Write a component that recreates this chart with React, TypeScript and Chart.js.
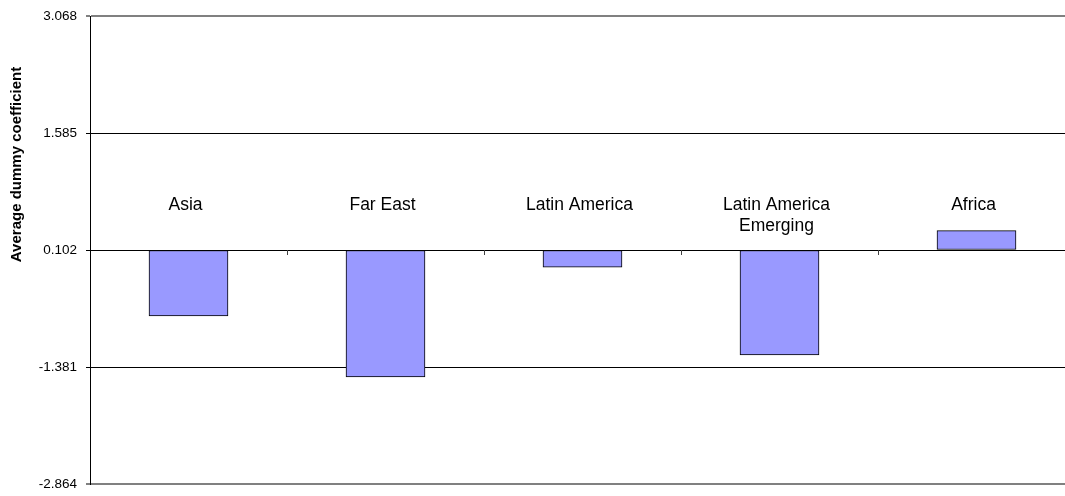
import React, { useEffect, useRef } from "react";
import { Chart, registerables } from "chart.js";

Chart.register(...registerables);

const categories: string[][] = [
  ["Asia"],
  ["Far East"],
  ["Latin America"],
  ["Latin America", "Emerging"],
  ["Africa"],
];
const coefficients: number[] = [-0.734, -1.508, -0.117, -1.229, 0.347];
const axisCross = 0.102;
const yTicks: number[] = [-2.864, -1.381, 0.102, 1.585, 3.068];
const yTitle = "Average dummy coefficient";

const FONT = "'Liberation Sans', Arial, Helvetica, sans-serif";

const overlayPlugin = {
  id: "overlay",
  afterDraw(chart: any) {
    const ctx = chart.ctx;
    const x = chart.scales.x;
    const y = chart.scales.y;
    const axisY = y.getPixelForValue(axisCross);
    ctx.save();
    // category boundary ticks on the crossing axis
    ctx.strokeStyle = "#404040";
    ctx.lineWidth = 1;
    for (let i = 0; i < categories.length - 1; i++) {
      const bx = Math.round((x.getPixelForValue(i) + x.getPixelForValue(i + 1)) / 2) + 0.5;
      ctx.beginPath();
      ctx.moveTo(bx, axisY);
      ctx.lineTo(bx, axisY + 5);
      ctx.stroke();
    }
    // category labels above the axis
    ctx.fillStyle = "#000";
    ctx.font = `17.5px ${FONT}`;
    ctx.textAlign = "center";
    ctx.textBaseline = "middle";
    categories.forEach((lines, i) => {
      const cx = x.getPixelForValue(i) - 3;
      lines.forEach((line, j) => {
        ctx.fillText(line, cx, axisY - 45 + j * 21.5);
      });
    });
    // rotated y title
    ctx.font = `bold 15px ${FONT}`;
    ctx.translate(17, 164.5);
    ctx.rotate(-Math.PI / 2);
    ctx.fillText(yTitle, 0, 0);
    ctx.restore();
  },
};

export default function App() {
  const ref = useRef<HTMLCanvasElement | null>(null);

  useEffect(() => {
    if (!ref.current) return;
    const last = yTicks.length - 1;
    const chart = new Chart(ref.current, {
      type: "bar",
      data: {
        labels: categories,
        datasets: [
          {
            data: coefficients,
            base: axisCross,
            backgroundColor: "#9999FF",
            borderColor: "#000000",
            borderWidth: 1,
            borderSkipped: false,
            barThickness: 79,
          } as any,
        ],
      },
      options: {
        animation: false,
        responsive: false,
        maintainAspectRatio: false,
        layout: { padding: { top: 16, bottom: 12, left: 0, right: 5 } },
        plugins: {
          legend: { display: false },
          tooltip: { enabled: false },
          title: { display: false },
        },
        scales: {
          x: {
            type: "category",
            display: false,
            offset: true,
          },
          y: {
            min: yTicks[0],
            max: yTicks[last],
            afterBuildTicks: (scale: any) => {
              scale.ticks = yTicks.map((v) => ({ value: v }));
            },
            afterFit: (scale: any) => {
              scale.width = 90;
              scale.paddingTop = 0;
              scale.paddingBottom = 0;
            },
            ticks: {
              color: "#000",
              padding: 9,
              font: { family: FONT, size: 13.5 },
              callback: (v: any) => Number(v).toFixed(3),
            },
            grid: {
              color: (c: any) =>
                c.index === 0 || c.index === last ? "#808080" : "#000000",
              lineWidth: (c: any) => (c.index === 0 || c.index === last ? 2 : 1),
              tickLength: 4,
            },
            border: { display: true, color: "#000", width: 1 },
          },
        },
      },
      plugins: [overlayPlugin],
    });
    return () => chart.destroy();
  }, []);

  return (
    <div
      style={{
        position: "fixed",
        left: 0,
        top: 0,
        width: 1065,
        height: 496,
        overflow: "hidden",
        background: "#fff",
      }}
    >
      <canvas ref={ref} width={1080} height={496} style={{ display: "block" }} />
    </div>
  );
}
